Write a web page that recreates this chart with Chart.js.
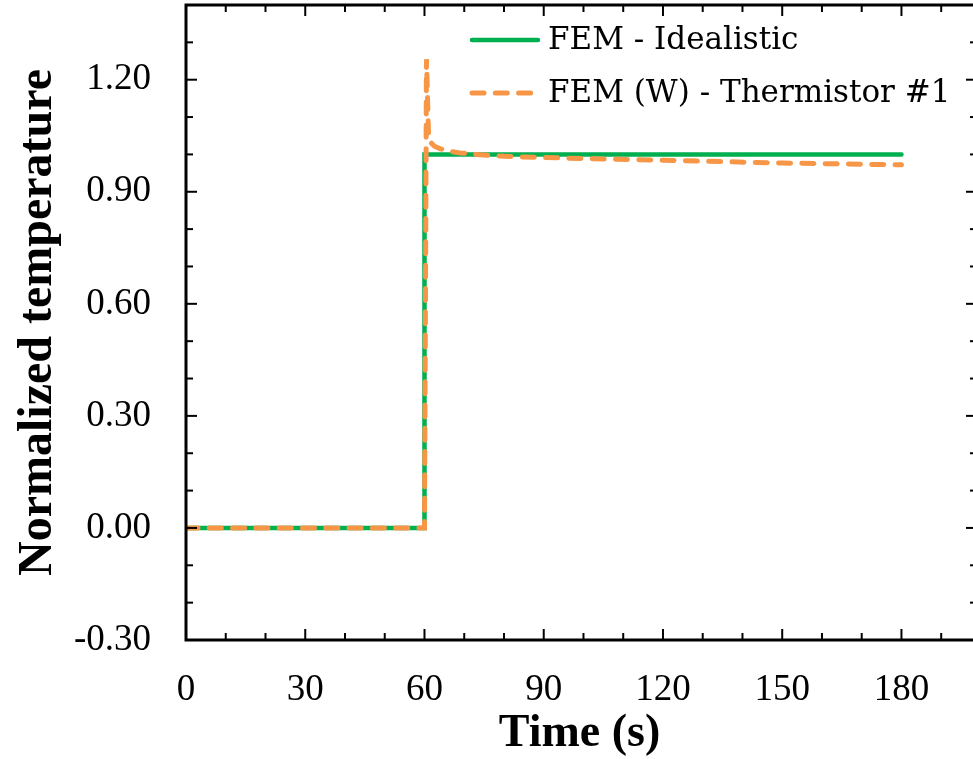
<!DOCTYPE html>
<html>
<head>
<meta charset="utf-8">
<script src="https://cdn.jsdelivr.net/npm/chart.js@4/dist/chart.umd.min.js"></script>
<style>
  html, body { margin: 0; padding: 0; background: #ffffff; }
  #wrap { width: 973px; height: 759px; }
</style>
</head>
<body>
<div id="wrap"><canvas id="temp" width="973" height="759"></canvas></div>
<script>
// data
const xTicks = [0, 30, 60, 90, 120, 150, 180];
const yTicks = [-0.3, 0, 0.3, 0.6, 0.9, 1.2];

const idealTime = [0, 60, 60, 180];
const idealValue = [0, 0, 1, 1];

const thermTime = [0, 60, 60.5, 61.0, 61.3, 62.5, 64, 66, 69, 73, 78, 85, 100, 125, 150, 180];
const thermValue = [0, 0, 1.255, 1.06, 1.035, 1.022, 1.015, 1.009, 1.004, 1.0, 0.996, 0.993, 0.989, 0.983, 0.977, 0.972];

const GREEN = "#00b050";
const ORANGE = "#f79646";
const serif = "'Liberation Serif', 'Times New Roman', serif";

const toPoints = (xs, ys) => xs.map((t, i) => ({ x: t, y: ys[i] }));

// frame + inward ticks (right edge of the frame sits just off the page)
const frame = {
  id: "frame",
  afterDatasetsDraw(chart) {
    const { ctx, chartArea: a, scales } = chart;
    const x = scales.x, y = scales.y;
    ctx.save();
    ctx.strokeStyle = "#000";
    ctx.lineCap = "butt";
    ctx.lineWidth = 2;
    const seg = (x1, y1, x2, y2) => {
      ctx.beginPath(); ctx.moveTo(x1, y1); ctx.lineTo(x2, y2); ctx.stroke();
    };
    for (let v = 10; v < x.max; v += 10) {
      const px = x.getPixelForValue(v);
      const len = v % 30 === 0 ? 11 : 7;
      seg(px, a.bottom, px, a.bottom - len);
      seg(px, a.top, px, a.top + len);
    }
    for (let i = -2; i <= 13; i++) {
      const py = y.getPixelForValue(i / 10);
      const len = i % 3 === 0 ? 11 : 7;
      seg(a.left, py, a.left + len, py);
      seg(a.right + 4, py, a.right + 4 - len, py);
    }
    ctx.lineWidth = 3;
    ctx.beginPath();
    ctx.moveTo(a.right + 4, a.top);
    ctx.lineTo(a.left, a.top);
    ctx.lineTo(a.left, a.bottom);
    ctx.lineTo(a.right + 4, a.bottom);
    ctx.stroke();
    ctx.restore();
  }
};

// legend drawn inside the plot, top right
const legendBox = {
  id: "legendBox",
  afterDraw(chart) {
    const { ctx, chartArea: a } = chart;
    const x0 = a.left + 284, x1 = a.left + 354;
    const rows = [a.top + 35, a.top + 88];
    ctx.save();
    ctx.font = "31px 'DejaVu Serif', serif";
    ctx.fillStyle = "#000";
    ctx.textBaseline = "middle";
    chart.data.datasets.forEach((ds) => {
      const yy = rows[ds.legendRow];
      ctx.strokeStyle = ds.borderColor;
      ctx.lineWidth = ds.borderWidth;
      ctx.lineCap = "round";
      ctx.setLineDash(ds.borderDash || []);
      ctx.beginPath(); ctx.moveTo(x0 + 2, yy); ctx.lineTo(x1 - 2, yy); ctx.stroke();
      ctx.setLineDash([]);
      ctx.fillText(ds.label, x1 + 8, yy + 1);
    });
    ctx.restore();
  }
};

new Chart(document.getElementById("temp"), {
  type: "line",
  data: {
    datasets: [
      {
        label: "FEM (W) - Thermistor #1",
        data: toPoints(thermTime, thermValue),
        borderColor: ORANGE,
        borderWidth: 5,
        borderDash: [12, 11.3],
        borderCapStyle: "round",
        pointRadius: 0,
        tension: 0,
        order: 0,
        legendRow: 1,
      },
      {
        label: "FEM - Idealistic",
        data: toPoints(idealTime, idealValue),
        borderColor: GREEN,
        borderWidth: 4.5,
        borderCapStyle: "round",
        pointRadius: 0,
        tension: 0,
        order: 1,
        legendRow: 0,
      },
    ],
  },
  options: {
    responsive: false,
    animation: false,
    layout: { padding: { top: 5, right: 0, left: 0, bottom: 0 } },
    plugins: {
      legend: { display: false },
      tooltip: { enabled: false },
    },
    scales: {
      x: {
        type: "linear",
        min: 0,
        max: 198,
        grid: { display: false, drawTicks: false },
        border: { display: false },
        afterBuildTicks: (s) => { s.ticks = xTicks.map((v) => ({ value: v })); },
        afterFit: (s) => { s.height = 119; s.paddingLeft = 0; s.paddingRight = 0; },
        ticks: {
          color: "#000",
          padding: 28,
          maxRotation: 0,
          font: { family: serif, size: 37 },
        },
        title: {
          display: true,
          text: "Time (s)",
          color: "#000",
          font: { family: serif, size: 46, weight: "bold", lineHeight: 1 },
          padding: { top: 0, bottom: 2 },
        },
      },
      y: {
        min: -0.3,
        max: 1.4,
        grid: { display: false, drawTicks: false },
        border: { display: false },
        afterBuildTicks: (s) => { s.ticks = yTicks.map((v) => ({ value: v })); },
        afterFit: (s) => { s.width = 186; s.paddingTop = 0; s.paddingBottom = 0; },
        ticks: {
          color: "#000",
          padding: 35,
          font: { family: serif, size: 37 },
          callback: (v) => Number(v).toFixed(2),
        },
        title: {
          display: true,
          text: "Normalized temperature",
          color: "#000",
          font: { family: serif, size: 48, weight: "bold", lineHeight: 1 },
          padding: { top: 15, bottom: 0 },
        },
      },
    },
  },
  plugins: [frame, legendBox],
});
</script>
</body>
</html>
